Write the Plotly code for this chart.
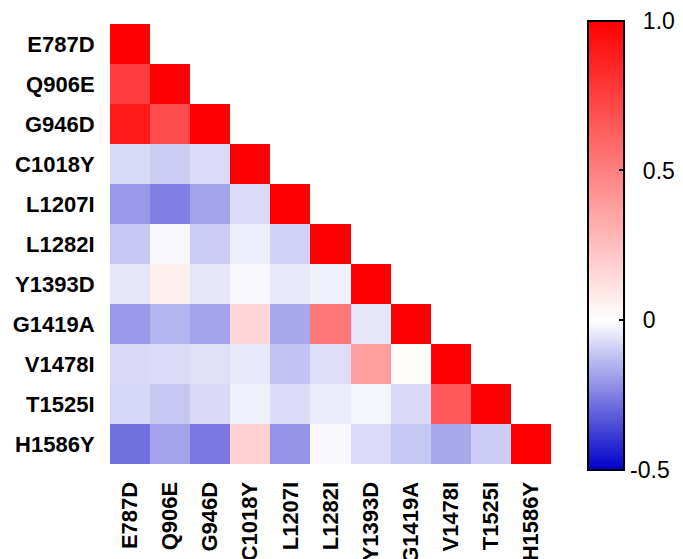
import plotly.graph_objects as go

# Mutation labels (same order on both axes)
mutations = ["E787D", "Q906E", "G946D", "C1018Y", "L1207I", "L1282I",
             "Y1393D", "G1419A", "V1478I", "T1525I", "H1586Y"]

# Lower-triangular correlation rows (row i has i+1 entries, diagonal = 1)
row_E787D = [1.0]
row_Q906E = [0.76, 1.0]
row_G946D = [0.90, 0.70, 1.0]
row_C1018Y = [-0.076, -0.10, -0.07, 1.0]
row_L1207I = [-0.20, -0.25, -0.18, -0.07, 1.0]
row_L1282I = [-0.11, -0.015, -0.10, -0.035, -0.09, 1.0]
row_Y1393D = [-0.05, 0.06, -0.05, -0.015, -0.045, -0.03, 1.0]
row_G1419A = [-0.20, -0.15, -0.18, 0.16, -0.17, 0.53, -0.05, 1.0]
row_V1478I = [-0.075, -0.07, -0.06, -0.045, -0.12, -0.065, 0.39, 0.01, 1.0]
row_T1525I = [-0.08, -0.11, -0.075, -0.03, -0.07, -0.04, -0.02, -0.075, 0.65, 1.0]
row_H1586Y = [-0.28, -0.18, -0.26, 0.18, -0.21, -0.015, -0.07, -0.11, -0.17, -0.10, 1.0]

rows = [row_E787D, row_Q906E, row_G946D, row_C1018Y, row_L1207I, row_L1282I,
        row_Y1393D, row_G1419A, row_V1478I, row_T1525I, row_H1586Y]

n = len(mutations)
z = [r + [None] * (n - len(r)) for r in rows]

z_min, z_max = -0.5, 1.0
cb_ticks = [1.0, 0.5, 0, -0.5]
cb_text = ["1.0", "0.5", "0", "-0.5"]

# Figure / colorbar geometry (pixels)
W, H = 683, 559
M_L, M_R, M_T, M_B = 110, 132, 24, 95
plot_w, plot_h = W - M_L - M_R, H - M_T - M_B
cb_x = 1.084          # paper fraction, left edge of colorbar
cb_y = 0.497          # paper fraction, centre of colorbar
cb_len = 449          # px
cb_thick = 36         # px
cb_outline = 2        # px
tick_len = 6          # px

# digits line up; the minus sign hangs to the left
def pad_label(t):
    return t if t.startswith("-") else "\u00a0\u00a0" + t

fig = go.Figure(go.Heatmap(
    z=z,
    x=mutations,
    y=mutations,
    zmin=z_min,
    zmax=z_max,
    colorscale=[[0.0, "rgb(0,0,200)"], [1 / 3, "rgb(255,255,255)"], [1.0, "rgb(255,0,0)"]],
    hoverongaps=False,
    colorbar=dict(
        x=cb_x,
        xanchor="left",
        y=cb_y,
        yanchor="middle",
        len=cb_len,
        lenmode="pixels",
        thickness=cb_thick,
        outlinewidth=cb_outline,
        outlinecolor="black",
        tickvals=cb_ticks,
        ticktext=[pad_label(t) for t in cb_text],
        ticks="inside",
        ticklen=tick_len,
        tickwidth=2,
        tickcolor="black",
        tickfont=dict(family="Liberation Sans, Arial, sans-serif", size=23, color="black"),
        xpad=0,
        ypad=0,
    ),
))

# Matching tick marks on the left inner edge of the colorbar (interior ticks only)
cb_bottom_px = cb_y * plot_h - cb_len / 2
for v in cb_ticks[1:-1]:
    y_paper = (cb_bottom_px + (v - z_min) / (z_max - z_min) * cb_len) / plot_h
    x0 = cb_x + cb_outline / plot_w
    fig.add_shape(type="line", xref="paper", yref="paper",
                  x0=x0, x1=x0 + tick_len / plot_w, y0=y_paper, y1=y_paper,
                  line=dict(color="black", width=2))

label_font = dict(family="Liberation Sans, Arial, sans-serif", size=22, color="black")
axis_common = dict(
    type="category",
    tickfont=label_font,
    showgrid=False,
    zeroline=False,
    showline=False,
    ticks="outside",
    tickcolor="rgba(0,0,0,0)",
    tickprefix="<b>",
    ticksuffix="</b>",
)

fig.update_xaxes(tickangle=-90, ticklen=8, **axis_common)
fig.update_yaxes(autorange="reversed", ticklen=10, **axis_common)

fig.update_layout(
    width=W,
    height=H,
    margin=dict(l=M_L, r=M_R, t=M_T, b=M_B, autoexpand=False),
    paper_bgcolor="white",
    plot_bgcolor="white",
)

fig.write_html("out.html")
